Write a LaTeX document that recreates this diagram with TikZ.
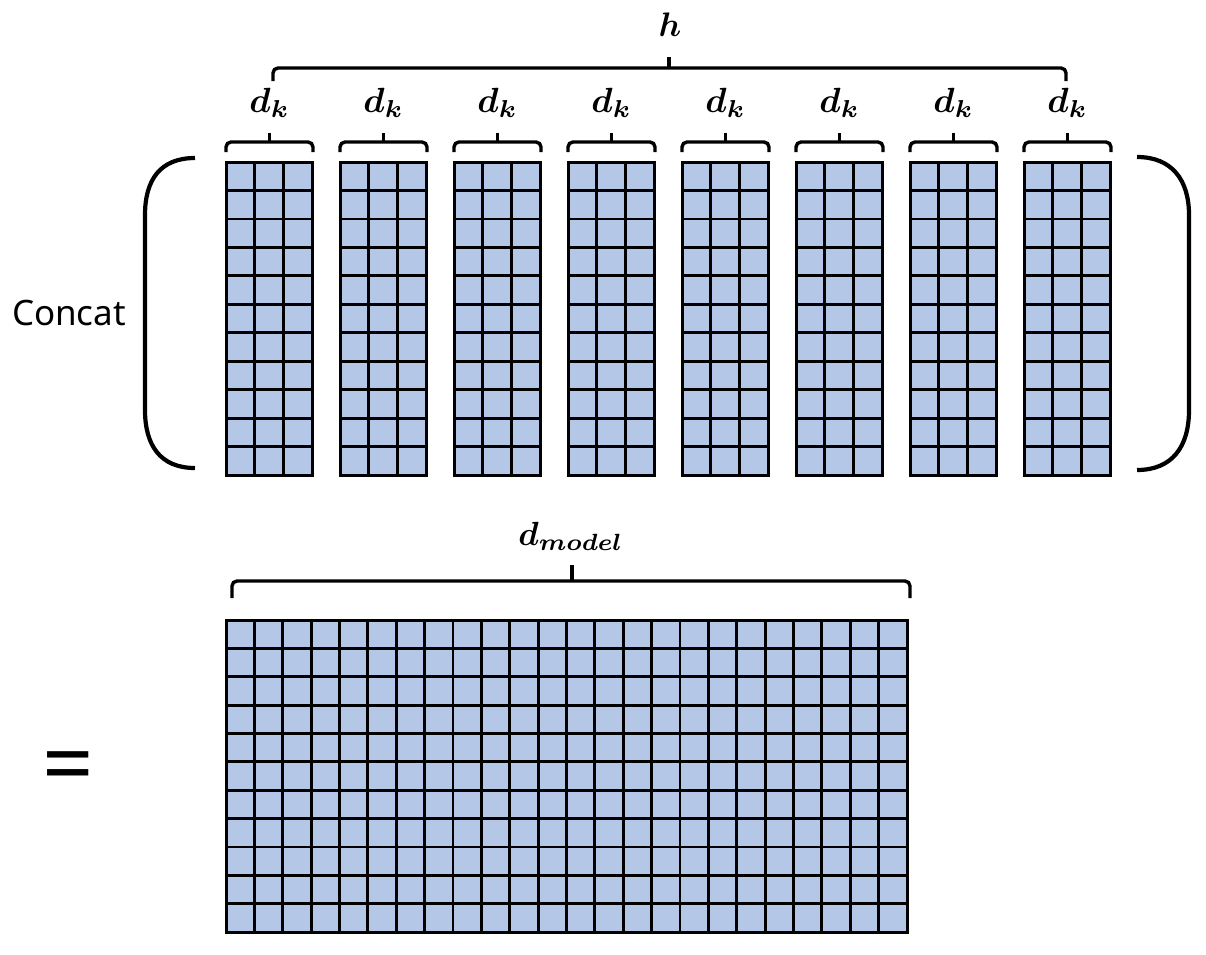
\documentclass[tikz,border=0pt]{standalone}
\usepackage{fontspec}
\usepackage{bm}
\usepackage{graphicx}
\usetikzlibrary{calc}
\newfontfamily\labelfont{Noto Sans}
\definecolor{cellblue}{HTML}{B4C7E7}
\tikzset{
  matrixbox/.style={draw=black, fill=cellblue, line width=3pt, inner sep=0pt, outer sep=0pt, rectangle},
  gridline/.style={draw=black, line width=2.8pt},
  bracepath/.style={draw=black, line width=3.4pt, rounded corners=5pt},
  bracetick/.style={draw=black, line width=3.4pt},
  parenpath/.style={draw=black, line width=4.2pt},
  mathlabel/.style={inner sep=0pt, text=black},
  textlabel/.style={inner sep=0pt, font=\labelfont\fontsize{35}{42}\selectfont}
}
% #1 name, #2 left x, #3 right x, #4 y, #5 hook y, #6 tip y, #7 tip x
\newcommand\mybrace[7]{%
  \coordinate (#1-l) at (#2,#5);
  \coordinate (#1-r) at (#3,#5);
  \coordinate (#1-m) at (#7,#4);
  \coordinate (#1-t) at (#7,#6);
  \draw[bracepath] (#1-l) |- (#1-m) -| (#1-r);
  \draw[bracetick] (#1-m) -- (#1-t);
}
\begin{document}
\begin{tikzpicture}[x=1pt,y=-1pt]
\useasboundingbox (0,0) rectangle (1206,954);
% top matrices
\foreach \k in {0,...,7}{
  \pgfmathsetmacro{\xl}{226+114*\k}
  \pgfmathsetmacro{\xm}{226+114*\k+43.5}
  \node[matrixbox, minimum width=86pt, minimum height=313pt, anchor=north west] (m\k) at (\xl,162) {};
  \foreach \i in {1,2}{
    \draw[gridline] ($(m\k.north west)!\i/3!(m\k.north east)$) -- ($(m\k.south west)!\i/3!(m\k.south east)$);
  }
  \foreach \j in {1,...,10}{
    \draw[gridline] ($(m\k.north west)!\j/11!(m\k.south west)$) -- ($(m\k.north east)!\j/11!(m\k.south east)$);
  }
  \draw[draw=black, line width=3pt] (m\k.north west) rectangle (m\k.south east);
  \mybrace{b\k}{\xl}{\xl+87}{142}{152}{133}{\xm}
  \node[mathlabel] (dk\k) at (\xm,103) {\scalebox{3.5}{$\bm{d_k}$}};
}
% h brace
\mybrace{bh}{273}{1066}{68}{81}{57}{669}
\node[mathlabel] (hlab) at (670,25) {\scalebox{3.4}{$\bm{h}$}};
% parentheses
\draw[parenpath] (195,158) .. controls (160,158) and (145,180) .. (145,215) -- (145,410) .. controls (145,445) and (160,468) .. (195,468);
\draw[parenpath] (1137,157) .. controls (1172,157) and (1189,180) .. (1189,215) -- (1189,410) .. controls (1189,447) and (1172,470) .. (1137,470);
% Concat label
\node[textlabel] (concat) at (69,313) {Concat};
% bottom matrix
\node[matrixbox, minimum width=681pt, minimum height=312pt, anchor=north west] (big) at (226,620) {};
\foreach \i in {1,...,23}{
  \draw[gridline] ($(big.north west)!\i/24!(big.north east)$) -- ($(big.south west)!\i/24!(big.south east)$);
}
\foreach \j in {1,...,10}{
  \draw[gridline] ($(big.north west)!\j/11!(big.south west)$) -- ($(big.north east)!\j/11!(big.south east)$);
}
\draw[draw=black, line width=3pt] (big.north west) rectangle (big.south east);
% d_model brace
\mybrace{bd}{232}{910}{581}{598}{565}{572}
\node[mathlabel] (dmodel) at (571,536) {\scalebox{3.35}{$\bm{d_{model}}$}};
% equals
\node[inner sep=0pt, font=\labelfont\fontsize{90}{90}\selectfont] (eq) at (68,774) {=};
\end{tikzpicture}
\end{document}
